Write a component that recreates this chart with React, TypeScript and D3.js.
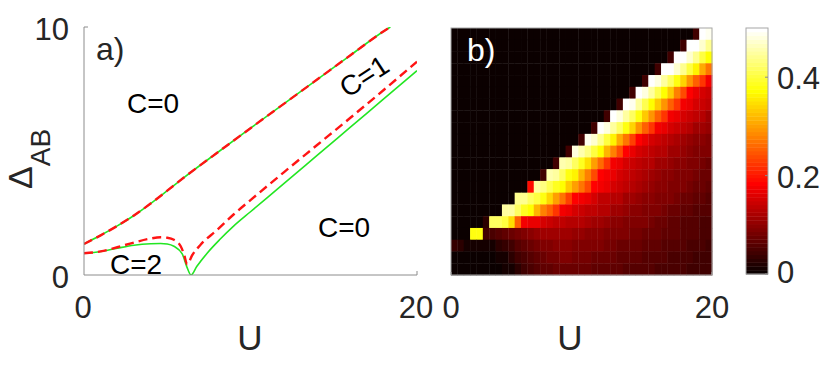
import * as d3 from "d3";

// panel a) phase boundaries
const upperU = [0, 1, 2, 3, 4, 5, 6, 8, 10, 12, 14, 16, 18, 18.4];
const upperDelta = [1.25, 1.6, 1.98, 2.4, 2.88, 3.4, 3.93, 4.93, 5.92, 6.9, 7.88, 8.86, 9.83, 10.0];

const greenU = [0, 1, 2, 3, 4, 4.6, 5.0, 5.4, 5.9, 6.17, 6.43, 6.77, 7.37, 8.17, 9, 10, 12, 14, 16, 18, 20];
const greenDelta = [0.875, 0.95, 1.08, 1.2, 1.26, 1.27, 1.25, 1.16, 0.85, 0.34, 0, 0.34, 0.86, 1.44, 1.98, 2.55, 3.68, 4.82, 5.96, 7.1, 8.24];

const redU = [0, 1, 2, 3, 4, 4.6, 5.0, 5.4, 5.8, 6.0, 6.2, 6.5, 7, 8, 9, 10, 12, 14, 16, 18, 20];
const redDelta = [0.875, 0.95, 1.12, 1.31, 1.47, 1.52, 1.5, 1.42, 1.17, 0.85, 0.43, 0.8, 1.22, 1.82, 2.45, 3.02, 4.14, 5.24, 6.34, 7.46, 8.6];

// panel b) heat map grid
const gridU = [0, 0.5, 1, 1.5, 2, 2.5, 3, 3.5, 4, 4.5, 5, 5.5, 6, 6.5, 7, 7.5, 8, 8.5, 9, 9.5, 10,
  10.5, 11, 11.5, 12, 12.5, 13, 13.5, 14, 14.5, 15, 15.5, 16, 16.5, 17, 17.5, 18, 18.5, 19, 19.5, 20];
const gridDelta = [10, 9.5, 9, 8.5, 8, 7.5, 7, 6.5, 6, 5.5, 5, 4.5, 4, 3.5, 3, 2.5, 2, 1.5, 1, 0.5, 0];

// one row per Delta (top = 10), one value per U column
const heatRows = [
  [0,0,0,0,0,0,0,0,0,0,0,0,0,0,0,0,0,0,0,0,0,0,0,0,0,0,0,0,0,0,0,0,0,0,0,0,0,0,0.045,0.5,0.49],
  [0,0,0,0,0,0,0,0,0,0,0,0,0,0,0,0,0,0,0,0,0,0,0,0,0,0,0,0,0,0,0,0,0,0,0,0,0.045,0.5,0.5,0.47,0.44],
  [0,0,0,0,0,0,0,0,0,0,0,0,0,0,0,0,0,0,0,0,0,0,0,0,0,0,0,0,0,0,0,0,0,0,0.045,0.5,0.5,0.47,0.44,0.4,0.37],
  [0,0,0,0,0,0,0,0,0,0,0,0,0,0,0,0,0,0,0,0,0,0,0,0,0,0,0,0,0,0,0,0,0.045,0.5,0.5,0.47,0.44,0.4,0.36,0.31,0.27],
  [0,0,0,0,0,0,0,0,0,0,0,0,0,0,0,0,0,0,0,0,0,0,0,0,0,0,0,0,0,0,0.045,0.5,0.48,0.45,0.42,0.38,0.34,0.29,0.25,0.22,0.175],
  [0,0,0,0,0,0,0,0,0,0,0,0,0,0,0,0,0,0,0,0,0,0,0,0,0,0,0,0,0.045,0.5,0.48,0.45,0.41,0.37,0.33,0.28,0.24,0.185,0.165,0.155,0.145],
  [0,0,0,0,0,0,0,0,0,0,0,0,0,0,0,0,0,0,0,0,0,0,0,0,0,0,0.045,0.5,0.49,0.45,0.41,0.37,0.33,0.29,0.25,0.22,0.175,0.165,0.155,0.145,0.135],
  [0,0,0,0,0,0,0,0,0,0,0,0,0,0,0,0,0,0,0,0,0,0,0,0,0.045,0.5,0.48,0.45,0.42,0.38,0.33,0.29,0.25,0.22,0.175,0.165,0.155,0.145,0.135,0.125,0.115],
  [0,0,0,0,0,0,0,0,0,0,0,0,0,0,0,0,0,0,0,0,0,0,0.045,0.5,0.48,0.45,0.42,0.38,0.34,0.29,0.25,0.22,0.175,0.165,0.155,0.145,0.135,0.125,0.115,0.11,0.105],
  [0,0,0,0,0,0,0,0,0,0,0,0,0,0,0,0,0,0,0,0,0.045,0.49,0.47,0.44,0.4,0.36,0.31,0.27,0.23,0.185,0.165,0.155,0.145,0.135,0.125,0.12,0.115,0.105,0.1,0.097,0.093],
  [0,0,0,0,0,0,0,0,0,0,0,0,0,0,0,0,0,0,0.045,0.48,0.46,0.43,0.4,0.37,0.32,0.28,0.24,0.185,0.165,0.155,0.145,0.135,0.13,0.125,0.115,0.11,0.105,0.097,0.093,0.09,0.086],
  [0,0,0,0,0,0,0,0,0,0,0,0,0,0,0,0,0.045,0.46,0.45,0.42,0.39,0.35,0.3,0.26,0.22,0.175,0.165,0.155,0.145,0.135,0.13,0.125,0.115,0.11,0.105,0.1,0.097,0.09,0.086,0.082,0.078],
  [0,0,0,0,0,0,0,0,0,0,0,0,0,0,0.045,0.46,0.45,0.42,0.38,0.36,0.32,0.28,0.24,0.185,0.175,0.165,0.155,0.145,0.135,0.125,0.12,0.115,0.105,0.1,0.097,0.093,0.09,0.086,0.082,0.078,0.074],
  [0,0,0,0,0,0,0,0,0,0,0,0,0.19,0.45,0.43,0.41,0.39,0.37,0.33,0.3,0.27,0.24,0.185,0.175,0.165,0.155,0.145,0.135,0.125,0.12,0.115,0.105,0.1,0.097,0.093,0.09,0.086,0.082,0.078,0.074,0.07],
  [0,0,0,0,0,0,0,0,0,0,0.44,0.44,0.42,0.4,0.38,0.34,0.3,0.27,0.23,0.185,0.175,0.165,0.15,0.14,0.135,0.13,0.125,0.115,0.11,0.105,0.1,0.097,0.093,0.09,0.086,0.082,0.078,0.074,0.07,0.066,0.062],
  [0,0,0,0,0,0,0,0,0.45,0.45,0.42,0.39,0.37,0.32,0.28,0.25,0.22,0.175,0.165,0.155,0.145,0.14,0.135,0.13,0.125,0.115,0.11,0.105,0.1,0.097,0.093,0.09,0.086,0.082,0.078,0.074,0.07,0.066,0.062,0.058,0.058],
  [0,0,0,0,0,0.03,0.42,0.42,0.4,0.35,0.25,0.175,0.165,0.165,0.155,0.145,0.14,0.135,0.13,0.125,0.125,0.12,0.115,0.11,0.105,0.1,0.097,0.093,0.09,0.09,0.086,0.082,0.078,0.074,0.07,0.066,0.062,0.058,0.058,0.054,0.054],
  [0,0,0,0.38,0.38,0.042,0.05,0.058,0.066,0.074,0.082,0.09,0.097,0.105,0.115,0.115,0.115,0.115,0.11,0.105,0.105,0.1,0.097,0.097,0.093,0.09,0.09,0.086,0.082,0.082,0.078,0.074,0.074,0.07,0.066,0.066,0.062,0.058,0.058,0.054,0.05],
  [0.035,0.025,0.01,0.01,0.01,0.01,0.015,0.025,0.035,0.045,0.058,0.066,0.074,0.082,0.09,0.093,0.097,0.097,0.097,0.093,0.093,0.09,0.09,0.086,0.082,0.082,0.078,0.078,0.074,0.074,0.07,0.066,0.066,0.062,0.062,0.058,0.058,0.054,0.05,0.05,0.046],
  [0,0,0,0,0,0,0,0.01,0.015,0.025,0.042,0.05,0.058,0.066,0.074,0.082,0.082,0.086,0.086,0.082,0.082,0.082,0.078,0.078,0.074,0.074,0.07,0.07,0.066,0.066,0.062,0.062,0.058,0.058,0.054,0.054,0.05,0.05,0.046,0.046,0.042],
  [0,0,0,0,0,0,0,0,0.01,0.015,0.03,0.042,0.05,0.058,0.066,0.07,0.074,0.074,0.074,0.074,0.074,0.074,0.07,0.07,0.066,0.066,0.066,0.062,0.062,0.058,0.058,0.058,0.054,0.054,0.05,0.05,0.05,0.046,0.046,0.042,0.042],
];

const uTicks = [0, 20];
const deltaTicks = [0, 10];
const cbarTicks = [0, 0.2, 0.4];
const cbarMax = 0.5;

const FONT = "'Liberation Sans', Arial, Helvetica, sans-serif";
const TXT = "#262626";
const AXC = "#8c8c8c";

// matlab style hot(64)
const hot = (v: number) => {
  const t = Math.max(0, Math.min(1, v / cbarMax));
  const i = Math.min(64, Math.floor(t * 64) + 1);
  const r = Math.min(i / 24, 1);
  const g = Math.max(0, Math.min((i - 24) / 24, 1));
  const b = Math.max(0, Math.min((i - 48) / 16, 1));
  return d3.rgb(r * 255, g * 255, b * 255).formatHex();
};

const App = () => {
  // panel a
  const xA = d3.scaleLinear().domain([0, 20]).range([84, 417]);
  const yA = d3.scaleLinear().domain([0, 10]).range([275, 27]);
  const mkLine = (us: number[]) =>
    d3
      .line<number>()
      .x((_, i) => xA(us[i]))
      .y((d) => yA(d))
      .curve(d3.curveMonotoneX);

  // panel b
  const hx = d3.scaleBand<number>().domain(gridU).range([451, 712]);
  const hy = d3.scaleBand<number>().domain(gridDelta).range([28, 275]);
  const xB = d3.scaleLinear().domain([0, 20]).range([451, 712]);

  // colour bar
  const cy = d3.scaleLinear().domain([0, cbarMax]).range([274, 28]);
  const bands = d3.range(64).map((i) => i);

  return (
    <svg
      width={830}
      height={373}
      style={{ position: "absolute", left: 0, top: 0, background: "#fff" }}
      fontFamily={FONT}
    >
      <defs>
        <clipPath id="clipA">
          <rect x={84} y={27} width={333} height={248} />
        </clipPath>
      </defs>

      {/* ---- panel a ---- */}
      <g clipPath="url(#clipA)" fill="none">
        <path d={mkLine(upperU)(upperDelta) || ""} stroke="#22e622" strokeWidth={1.6} />
        <path d={mkLine(greenU)(greenDelta) || ""} stroke="#22e622" strokeWidth={1.6} />
        <path
          d={mkLine(upperU)(upperDelta) || ""}
          stroke="#ff1414"
          strokeWidth={2.4}
          strokeDasharray="9 5"
        />
        <path
          d={mkLine(redU)(redDelta) || ""}
          stroke="#ff1414"
          strokeWidth={2.4}
          strokeDasharray="9 5"
        />
      </g>
      <line x1={84} x2={84} y1={27} y2={275} stroke={AXC} />
      <line x1={84} x2={417} y1={275} y2={275} stroke={AXC} />
      <line x1={84} x2={88} y1={27} y2={27} stroke={AXC} />
      <line x1={417} x2={417} y1={275} y2={271} stroke={AXC} />
      {deltaTicks.map((t) => (
        <text key={"dy" + t} x={69} y={yA(t) + 12.5} fontSize={31} fill={TXT} textAnchor="end">
          {t}
        </text>
      ))}
      {uTicks.map((t) => (
        <text key={"ua" + t} x={xA(t) - 1} y={318} fontSize={31} fill={TXT} textAnchor="middle">
          {t}
        </text>
      ))}
      <text x={250} y={350} fontSize={35} fill={TXT} textAnchor="middle">
        U
      </text>
      <text transform="translate(32,189) rotate(-90)" fill={TXT}>
        <tspan fontSize={34}>Δ</tspan>
        <tspan fontSize={28} dy={18}>
          AB
        </tspan>
      </text>
      <text x={96} y={60} fontSize={32} fill={TXT}>
        a)
      </text>
      <text x={127} y={113} fontSize={28} fill="#000">
        C=0
      </text>
      <text x={318} y={237} fontSize={28} fill="#000">
        C=0
      </text>
      <text x={110} y={274} fontSize={28} fill="#000">
        C=2
      </text>
      <text
        transform="translate(364,76) rotate(-33)"
        fontSize={28}
        fill="#000"
        textAnchor="middle"
        dy={10}
      >
        C=1
      </text>

      {/* ---- panel b ---- */}
      <g>
        {heatRows.map((row, r) =>
          row.map((v, c) => (
            <rect
              key={r + "-" + c}
              x={hx(gridU[c])}
              y={hy(gridDelta[r])}
              width={hx.bandwidth() + 0.4}
              height={hy.bandwidth() + 0.4}
              fill={hot(v)}
            />
          ))
        )}
      </g>
      <rect x={451} y={28} width={261} height={247} fill="none" stroke="#a6a6a6" />
      <line x1={451} x2={451} y1={275} y2={272} stroke="#a6a6a6" />
      <line x1={712} x2={712} y1={275} y2={272} stroke="#a6a6a6" />
      <text x={467} y={61} fontSize={32} fill="#fff">
        b)
      </text>
      {uTicks.map((t) => (
        <text key={"ub" + t} x={xB(t)} y={318} fontSize={31} fill={TXT} textAnchor="middle">
          {t}
        </text>
      ))}
      <text x={570} y={350} fontSize={35} fill={TXT} textAnchor="middle">
        U
      </text>

      {/* ---- colour bar ---- */}
      <g>
        {bands.map((i) => {
          const v0 = (i / 64) * cbarMax;
          const v1 = ((i + 1) / 64) * cbarMax;
          return (
            <rect
              key={"cb" + i}
              x={746}
              y={cy(v1)}
              width={22}
              height={cy(v0) - cy(v1) + 0.4}
              fill={hot((v0 + v1) / 2)}
            />
          );
        })}
      </g>
      <rect x={746} y={28} width={22} height={246} fill="none" stroke="#a6a6a6" />
      {cbarTicks.map((t) => (
        <g key={"ct" + t}>
          <line x1={768} x2={765} y1={cy(t)} y2={cy(t)} stroke="#8c8c8c" />
          <text x={777} y={Math.min(cy(t) + 12, 283)} fontSize={31} fill={TXT}>
            {t}
          </text>
        </g>
      ))}
    </svg>
  );
};

export default App;
